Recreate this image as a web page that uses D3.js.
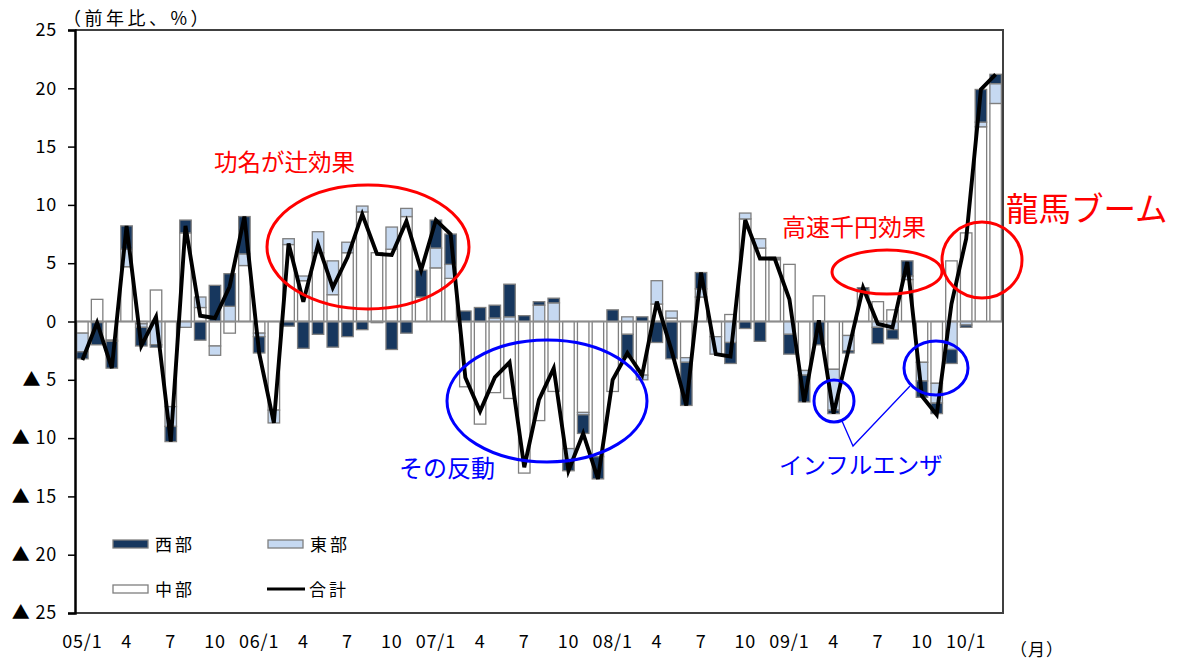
<!DOCTYPE html>
<html><head><meta charset="utf-8">
<script src="https://cdn.jsdelivr.net/npm/d3@7"></script>
<style>
html,body{margin:0;padding:0;background:#fff;}
svg text{font-family:"Noto Sans CJK JP","Noto Sans",sans-serif;}
</style>
</head><body>
<svg id="c" width="1179" height="661"></svg>
<script>
// ---- data ----
const categories = ["05/1","05/2","05/3","05/4","05/5","05/6","05/7","05/8","05/9","05/10","05/11","05/12",
"06/1","06/2","06/3","06/4","06/5","06/6","06/7","06/8","06/9","06/10","06/11","06/12",
"07/1","07/2","07/3","07/4","07/5","07/6","07/7","07/8","07/9","07/10","07/11","07/12",
"08/1","08/2","08/3","08/4","08/5","08/6","08/7","08/8","08/9","08/10","08/11","08/12",
"09/1","09/2","09/3","09/4","09/5","09/6","09/7","09/8","09/9","09/10","09/11","09/12",
"10/1","10/2","10/3"];
const chubu = [-1.0,1.9,-1.6,4.7,-0.2,2.7,-7.3,7.6,1.2,-2.1,-1.0,4.8,
-1.0,-7.6,6.6,3.5,5.9,2.3,5.9,9.4,5.9,6.2,9.0,2.1,
4.6,3.7,-5.6,-8.8,-6.1,-6.6,-13.0,-8.5,-6.0,-10.9,-7.8,-11.6,
-6.0,-1.1,-4.6,1.5,0.3,-3.1,2.1,-1.3,0.6,8.8,6.3,5.3,
4.9,-4.2,2.2,-4.1,-1.2,2.6,1.7,1.0,3.6,-3.5,-5.3,5.2,
7.6,16.7,18.7];
const higashi = [-1.6,-0.1,-0.1,1.5,-0.3,-2.0,-1.7,-0.5,0.9,-0.8,1.3,1.0,
-0.3,-1.1,0.5,0.4,1.8,2.9,0.9,0.5,0,1.9,0.7,0,
1.7,1.2,0,0,0.3,0.4,0,1.4,1.6,-1.1,-0.2,0,
0,0.4,-0.4,2.0,0.6,-0.4,0.7,-1.5,-1.8,0.5,0.8,0.1,
-1.1,-0.4,0,-3.5,-1.3,0.1,-0.5,-0.7,0.3,-1.6,-1.7,-2.4,
-0.3,0.4,1.7];
const nishi = [-0.6,-1.9,-2.3,2.0,-1.6,-0.2,-1.3,1.1,-1.6,3.1,2.8,3.2,
-1.4,0,-0.4,-2.3,-1.1,-2.2,-1.3,-0.7,-0.1,-2.4,-1.0,2.3,
2.4,2.6,0.9,1.2,1.1,2.8,0.5,0.3,0.4,-0.8,-1.6,-1.9,
1.0,-2.0,0.4,-1.8,-3.2,-3.7,1.4,0,-1.8,-0.6,-1.7,0.1,
-1.7,-2.3,-2.0,-0.3,-0.2,0.2,-1.4,-0.8,1.3,-1.4,-0.9,-1.2,
-0.2,2.8,0.8];
const total = [-3.3,-0.1,-4.0,8.2,-2.1,0.4,-10.3,8.2,0.5,0.3,3.0,9.0,
-2.7,-8.7,6.7,1.7,6.6,2.9,5.5,9.2,5.8,5.7,8.6,4.4,
8.7,7.5,-4.8,-7.7,-4.8,-3.5,-12.5,-6.7,-4.0,-12.8,-9.6,-13.5,
-5.0,-2.7,-4.6,1.7,-2.5,-7.2,4.2,-2.8,-3.0,8.7,5.4,5.4,
1.9,-6.9,0.1,-7.9,-2.5,2.9,-0.2,-0.5,5.1,-6.4,-8.0,1.5,
7.1,19.9,21.2];
const yTicks = [25,20,15,10,5,0,-5,-10,-15,-20,-25];
const seriesNames = ["西部","東部","中部","合計"];

// ---- layout ----
const svg = d3.select("#c");
const L = 75, R = 1003, T = 30, B = 613;
const x = d3.scaleBand().domain(categories).range([L, R]).paddingInner(0.22).paddingOuter(0.11);
const y = d3.scaleLinear().domain([-25, 25]).range([B, T]);
const colors = {"西部":"#17375E","東部":"#C6D9F1","中部":"#FFFFFF"};
const stroke = "#7F7F7F";

// stacked bars: 中部 nearest zero, then 東部, then 西部
const stackOrder = [["中部", chubu], ["東部", higashi], ["西部", nishi]];
const rects = [];
categories.forEach((c, i) => {
  let pos = 0, neg = 0;
  stackOrder.forEach(([name, arr]) => {
    const v = arr[i];
    if (v === 0) return;
    let y0, y1;
    if (v > 0) { y0 = pos; y1 = pos + v; pos = y1; }
    else { y0 = neg; y1 = neg + v; neg = y1; }
    rects.push({c, name, y0, y1});
  });
});
svg.append("g").selectAll("rect").data(rects).join("rect")
  .attr("x", d => x(d.c))
  .attr("width", x.bandwidth())
  .attr("y", d => y(Math.max(d.y0, d.y1)))
  .attr("height", d => Math.abs(y(d.y0) - y(d.y1)))
  .attr("fill", d => colors[d.name])
  .attr("stroke", stroke).attr("stroke-width", 1.3);

// zero line
svg.append("line").attr("x1", L).attr("x2", R).attr("y1", y(0)).attr("y2", y(0))
  .attr("stroke", "#8C8C8C").attr("stroke-width", 2);

// frame
svg.append("path").attr("d", `M${L},${T}H${R}V${B}H${L}`).attr("fill", "none")
  .attr("stroke", "#404040").attr("stroke-width", 2);

// left axis
const yAxis = d3.axisLeft(y).tickValues(yTicks).tickSize(7).tickPadding(11)
  .tickFormat(v => v < 0 ? "▲ " + Math.abs(v) : String(v));
const ga = svg.append("g").attr("transform", `translate(${L},0)`).call(yAxis);
ga.select(".domain").attr("stroke", "#000").attr("stroke-width", 2.5);
ga.selectAll(".tick line").attr("stroke", "#000").attr("stroke-width", 1.5);
ga.selectAll(".tick text").attr("font-size", 18).attr("fill", "#000").attr("letter-spacing", 0.8)
  .style("font-family", '"Noto Sans CJK JP",sans-serif');

// x labels
const tickLabel = c => {
  const [yy, mm] = c.split("/");
  if (mm === "1") return c;
  if (mm === "4" || mm === "7" || mm === "10") return mm;
  return null;
};
svg.append("g").selectAll("text").data(categories.filter(c => tickLabel(c) !== null)).join("text")
  .attr("x", c => x(c) + x.bandwidth() / 2)
  .attr("y", 648)
  .attr("text-anchor", "middle")
  .attr("font-size", 18)
  .attr("letter-spacing", 0.8)
  .text(tickLabel);
svg.append("text").attr("x", 1010).attr("y", 656).attr("font-size", 17).attr("letter-spacing", 1).text("（月）");
svg.append("text").attr("x", 63).attr("y", 25).attr("font-size", 18).attr("letter-spacing", 3.5).text("（前年比、%）");

// total line
const line = d3.line().x((d, i) => x(categories[i]) + x.bandwidth() / 2).y(d => y(d));
svg.append("path").datum(total).attr("d", line).attr("fill", "none")
  .attr("stroke", "#000").attr("stroke-width", 3.9).attr("stroke-linejoin", "miter");

// legend
const lg = svg.append("g");
const legendItems = [
  {name: seriesNames[0], x: 113, y: 544, type: "rect"},
  {name: seriesNames[1], x: 268, y: 544, type: "rect"},
  {name: seriesNames[2], x: 113, y: 589, type: "rect"},
  {name: seriesNames[3], x: 267, y: 589, type: "line"}
];
legendItems.forEach(it => {
  if (it.type === "rect") {
    lg.append("rect").attr("x", it.x).attr("y", it.y - 4).attr("width", 35).attr("height", 8)
      .attr("fill", colors[it.name]).attr("stroke", stroke).attr("stroke-width", 1.3);
  } else {
    lg.append("line").attr("x1", it.x).attr("x2", it.x + 38).attr("y1", it.y).attr("y2", it.y)
      .attr("stroke", "#000").attr("stroke-width", 3.2);
  }
  lg.append("text").attr("x", it.x + 42).attr("y", it.y + 7).attr("font-size", 17)
    .attr("letter-spacing", 3).text(it.name);
});

// annotations
const ann = svg.append("g").attr("fill", "none").attr("stroke-width", 3);
ann.append("ellipse").attr("cx", 368).attr("cy", 247).attr("rx", 101).attr("ry", 62).attr("stroke", "#FF0000");
ann.append("ellipse").attr("cx", 547).attr("cy", 401).attr("rx", 100).attr("ry", 61).attr("stroke", "#0000FF");
ann.append("ellipse").attr("cx", 887).attr("cy", 272).attr("rx", 55).attr("ry", 22).attr("stroke", "#FF0000");
ann.append("ellipse").attr("cx", 982).attr("cy", 260).attr("rx", 40).attr("ry", 38).attr("stroke", "#FF0000");
ann.append("ellipse").attr("cx", 834).attr("cy", 401).attr("rx", 20).attr("ry", 21).attr("stroke", "#0000FF");
ann.append("ellipse").attr("cx", 936).attr("cy", 368).attr("rx", 32).attr("ry", 27).attr("stroke", "#0000FF");
ann.append("path").attr("d", "M842,421L853,446L910,386").attr("stroke", "#0000FF").attr("stroke-width", 1.3);

const txt = svg.append("g");
txt.append("text").attr("x", 214).attr("y", 171).attr("font-size", 23.5).attr("fill", "#FF0000").text("功名が辻効果");
txt.append("text").attr("x", 399).attr("y", 477).attr("font-size", 24).attr("fill", "#0000FF").text("その反動");
txt.append("text").attr("x", 782).attr("y", 236).attr("font-size", 24).attr("fill", "#FF0000").text("高速千円効果");
txt.append("text").attr("x", 1006).attr("y", 221).attr("font-size", 32.5).attr("fill", "#FF0000").text("龍馬ブーム");
txt.append("text").attr("x", 779).attr("y", 474).attr("font-size", 23.5).attr("fill", "#0000FF").text("インフルエンザ");
</script>
</body></html>
